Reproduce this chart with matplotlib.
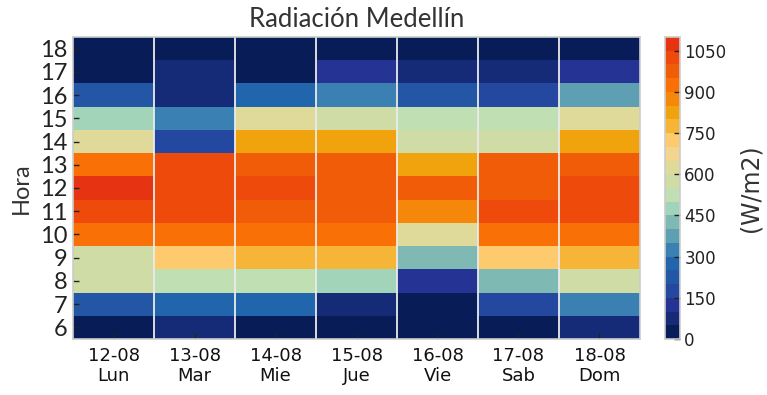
import numpy as np
import matplotlib.pyplot as plt
from matplotlib.colors import ListedColormap, BoundaryNorm

# data (W/m2) por hora 6..18
horas = [6, 7, 8, 9, 10, 11, 12, 13, 14, 15, 16, 17, 18]
fechas = ['12-08', '13-08', '14-08', '15-08', '16-08', '17-08', '18-08']
dias = ['Lun', 'Mar', 'Mie', 'Jue', 'Vie', 'Sab', 'Dom']

lun = [15, 230, 560, 590, 930, 1030, 1080, 920, 640, 470, 215, 30, 5]
mar = [80, 280, 520, 730, 910, 1010, 1040, 1020, 170, 330, 70, 60, 10]
mie = [20, 270, 540, 780, 940, 990, 1010, 970, 820, 630, 260, 40, 8]
jue = [25, 90, 480, 790, 920, 960, 980, 990, 830, 580, 320, 120, 10]
vie = [10, 30, 130, 430, 620, 880, 960, 810, 570, 510, 240, 90, 15]
sab = [30, 180, 420, 720, 930, 1020, 970, 980, 560, 530, 190, 70, 12]
dom = [70, 340, 590, 760, 910, 1040, 1010, 960, 840, 620, 380, 130, 20]

# colormap discreto, 22 niveles de 50
colores = ['#081d58', '#162b78', '#253494', '#2447a0', '#2357a6', '#2166ac',
           '#3a80b2', '#5e9fb3', '#7fb9b3', '#a1d4b9', '#c0e0b3', '#cfdca6',
           '#dfda9a', '#f3d68e', '#fdcb6d', '#f6b536', '#f0a30c', '#f5880a',
           '#f87006', '#f15c08', '#ed4a0c', '#e63312']
niveles = np.arange(0, 1101, 50)
cmap = ListedColormap(colores)
norm = BoundaryNorm(niveles, cmap.N)

datos = np.array([lun, mar, mie, jue, vie, sab, dom]).T

fig = plt.figure(figsize=(7.67, 3.95), dpi=100)
ax = fig.add_axes([0.0952, 0.1418, 0.7392, 0.7646])
cax = fig.add_axes([0.867, 0.1418, 0.0196, 0.7646])

x_edges = np.arange(len(fechas) + 1) - 0.5
y_edges = np.arange(horas[0], horas[-1] + 2) - 0.5
mesh = ax.pcolormesh(x_edges, y_edges, datos, cmap=cmap, norm=norm)

# lineas blancas entre dias
for xe in x_edges[1:-1]:
    ax.axvline(xe, color='#ebebeb', lw=1.3)

ax.set_xlim(x_edges[0], x_edges[-1])
ax.set_ylim(y_edges[0], y_edges[-1])
ax.set_xticks(range(len(fechas)))
ax.set_xticklabels([f + '\n' + d for f, d in zip(fechas, dias)],
                   fontsize=13, family='DejaVu Sans', linespacing=1.1, color='#111111')
ax.set_yticks(horas)
ax.set_yticklabels([str(h) for h in horas], fontsize=17, family='Lato', color='#222222')
ax.tick_params(direction='in', length=4, width=1, color='#222222', pad=6)
ax.tick_params(axis='y', pad=4)
for s in ax.spines.values():
    s.set_color('#cccccc')
    s.set_linewidth(1.2)

ax.set_ylabel('Hora', fontsize=17, family='Lato', color='#333333', labelpad=6)
ax.set_title('Radiación Medellín', fontsize=18.5, family='Lato', color='#333333', pad=7)

cb = fig.colorbar(mesh, cax=cax, ticks=np.arange(0, 1051, 150))
cb.ax.minorticks_off()
cb.ax.tick_params(direction='in', length=4, width=1, color='#222222', labelsize=12, pad=3)
cb.outline.set_edgecolor('#cccccc')
cb.outline.set_linewidth(1.2)
for t in cb.ax.get_yticklabels():
    t.set_color('#222222')
cb.set_label('(W/m2)', fontsize=17, color='#333333', labelpad=9)

fig.savefig('out.png', dpi=100)
